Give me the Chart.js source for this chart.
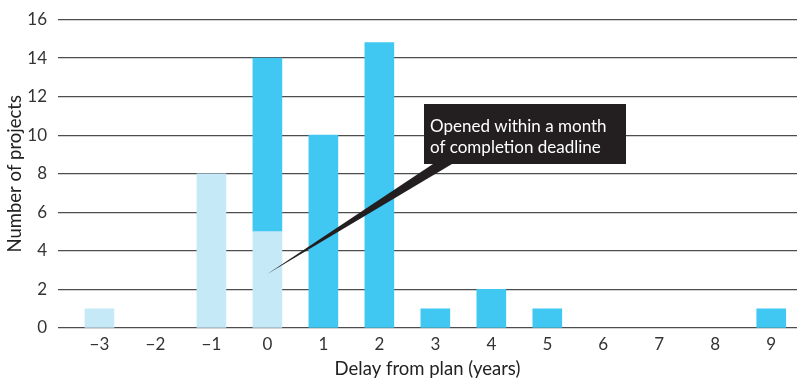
<!DOCTYPE html>
<html>
<head>
<meta charset="utf-8">
<script src="https://cdn.jsdelivr.net/npm/chart.js@4/dist/chart.umd.min.js"></script>
<style>
  html, body { margin: 0; padding: 0; background: #fff; }
  #wrap { width: 797px; height: 380px; }
</style>
</head>
<body>
<div id="wrap"><canvas id="delayChart"></canvas></div>
<script>
// ---------- DATA ----------
const delays = [-3, -2, -1, 0, 1, 2, 3, 4, 5, 6, 7, 8, 9];
const xTickLabels = ["\u22123", "\u22122", "\u22121", "0", "1", "2", "3", "4", "5", "6", "7", "8", "9"];
const withinMonth = [1, 0, 8, 5, 0, 0, 0, 0, 0, 0, 0, 0, 0];
const otherProjects = [0, 0, 0, 9, 10, 14.8, 1, 2, 1, 0, 0, 0, 1];
const yTicks = [0, 2, 4, 6, 8, 10, 12, 14, 16];
const noteLines = ["Opened within a month", "of completion deadline"];

const FONT = "Lato, 'Open Sans', sans-serif";
const toPoints = (vals) => delays.map((d, i) => ({ x: d, y: vals[i] || null }));

// ---------- CALLOUT ----------
const callout = {
  id: "callout",
  afterDatasetsDraw(chart) {
    const { ctx, scales } = chart;
    const tipX = scales.x.getPixelForValue(0);
    const tipY = scales.y.getPixelForValue(2.8);
    const box = { x: 424, y: 104, w: 202, h: 60 };
    ctx.save();
    ctx.fillStyle = "#231f20";
    ctx.beginPath();
    ctx.moveTo(tipX, tipY);
    ctx.lineTo(433, box.y + box.h);
    ctx.lineTo(452, box.y + box.h);
    ctx.closePath();
    ctx.fill();
    ctx.fillRect(box.x, box.y, box.w, box.h);
    ctx.fillStyle = "#ffffff";
    ctx.font = "17px " + FONT;
    ctx.textBaseline = "alphabetic";
    ctx.fillText(noteLines[0], 430, 132);
    ctx.fillText(noteLines[1], 430, 153);
    ctx.restore();
  }
};

new Chart(document.getElementById("delayChart"), {
  type: "bar",
  data: {
    datasets: [
      {
        label: "Within a month",
        data: toPoints(withinMonth),
        backgroundColor: "#c6e9f8",
        barThickness: 29
      },
      {
        label: "Other",
        data: toPoints(otherProjects),
        backgroundColor: "#40c8f3",
        barThickness: 29
      }
    ]
  },
  options: {
    responsive: true,
    maintainAspectRatio: false,
    animation: false,
    layout: { padding: { top: 4, right: 0, left: 0, bottom: 0 } },
    plugins: {
      legend: { display: false },
      tooltip: { enabled: false }
    },
    scales: {
      x: {
        type: "linear",
        stacked: true,
        offset: false,
        min: -3.74,
        max: 9.46,
        afterBuildTicks: (axis) => { axis.ticks = delays.map(v => ({ value: v })); },
        grid: { display: false, drawTicks: false },
        border: { display: false },
        ticks: {
          padding: 6,
          color: "#333",
          font: { family: FONT, size: 17 },
          callback: (v, i) => xTickLabels[i]
        },
        title: {
          display: true,
          text: "Delay from plan (years)",
          color: "#222",
          font: { family: FONT, size: 18.5 },
          padding: { top: 4, bottom: 0 }
        },
        afterFit: (axis) => { axis.height = 52; }
      },
      y: {
        stacked: true,
        min: 0,
        max: 16,
        afterBuildTicks: (axis) => { axis.ticks = yTicks.map(v => ({ value: v })); },
        grid: { color: "#4d4d4d", lineWidth: 1.3, drawTicks: false },
        border: { display: false },
        ticks: {
          padding: 11,
          color: "#333",
          font: { family: FONT, size: 17, lineHeight: 1 }
        },
        title: {
          display: true,
          text: "Number of projects",
          color: "#222",
          font: { family: FONT, size: 18.5 },
          padding: { top: 4, bottom: 0 }
        },
        afterFit: (axis) => { axis.width = 58; }
      }
    }
  },
  plugins: [callout]
});
</script>
</body>
</html>
